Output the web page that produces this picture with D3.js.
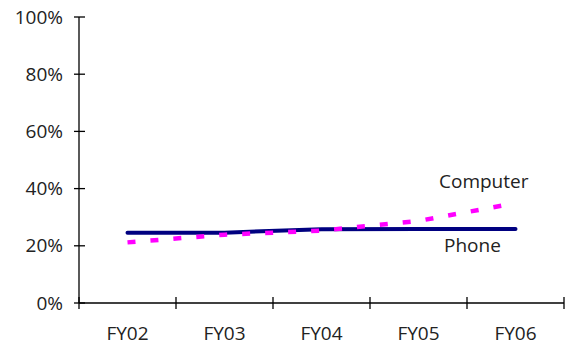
<!DOCTYPE html>
<html lang="en">
<head>
<meta charset="UTF-8">
<title>Phone vs Computer</title>
<script src="https://d3js.org/d3.v7.min.js"></script>
<style>
    body { margin: 0; background: #fff; }
    text { font-family: "Open Sans", sans-serif; font-size: 19px; fill: #222; }
    .axis path, .axis line { stroke: #000; stroke-width: 1.3px; }
</style>
</head>
<body>
<svg width="565" height="346"></svg>
<script>
    var years = ["FY02", "FY03", "FY04", "FY05", "FY06"];
    var phone = [24.6, 24.6, 25.8, 25.9, 25.9];
    var computer = [21.2, 23.9, 25.3, 28.7, 34.9];
    var yTicks = [0, 20, 40, 60, 80, 100];

    var svg = d3.select("svg");
    var plotLeft = 79, plotRight = 564, plotTop = 17, plotBottom = 303;

    var x = d3.scaleBand().domain(years).range([plotLeft, plotRight]);
    var y = d3.scaleLinear().domain([0, 100]).range([plotBottom, plotTop]);

    // y axis, ticks crossing the line
    var yAxis = svg.append("g").attr("class", "axis");
    yAxis.append("line")
        .attr("x1", plotLeft).attr("x2", plotLeft)
        .attr("y1", y(100)).attr("y2", y(0));
    yAxis.selectAll(".tk").data(yTicks).enter().append("line")
        .attr("x1", plotLeft - 5).attr("x2", plotLeft + 6)
        .attr("y1", function(d) { return y(d); })
        .attr("y2", function(d) { return y(d); });
    yAxis.selectAll("text").data(yTicks).enter().append("text")
        .attr("x", plotLeft - 16)
        .attr("y", function(d) { return y(d); })
        .attr("dy", "0.35em")
        .attr("text-anchor", "end")
        .text(function(d) { return d + "%"; });

    // x axis, ticks between categories
    var xAxis = svg.append("g").attr("class", "axis");
    xAxis.append("line")
        .attr("x1", plotLeft).attr("x2", plotRight)
        .attr("y1", plotBottom).attr("y2", plotBottom);
    var edges = years.map(function(d) { return x(d); }).concat([plotRight]);
    xAxis.selectAll(".tk").data(edges).enter().append("line")
        .attr("x1", function(d) { return d; })
        .attr("x2", function(d) { return d; })
        .attr("y1", plotBottom - 6).attr("y2", plotBottom + 6);
    xAxis.selectAll("text").data(years).enter().append("text")
        .attr("x", function(d) { return x(d) + x.bandwidth() / 2; })
        .attr("y", 340)
        .attr("text-anchor", "middle")
        .text(function(d) { return d; });

    var line = d3.line()
        .x(function(d, i) { return x(years[i]) + x.bandwidth() / 2; })
        .y(function(d) { return y(d); });

    svg.append("path")
        .datum(phone)
        .attr("d", line)
        .attr("fill", "none")
        .attr("stroke", "#000080")
        .attr("stroke-width", 4)
        .attr("stroke-linecap", "round");

    svg.append("path")
        .datum(computer)
        .attr("d", line)
        .attr("fill", "none")
        .attr("stroke", "#ff00ff")
        .attr("stroke-width", 4.5)
        .attr("stroke-dasharray", "8,15");

    svg.append("text").attr("x", 439).attr("y", 188).text("Computer");
    svg.append("text").attr("x", 444).attr("y", 252).text("Phone");
</script>
</body>
</html>
